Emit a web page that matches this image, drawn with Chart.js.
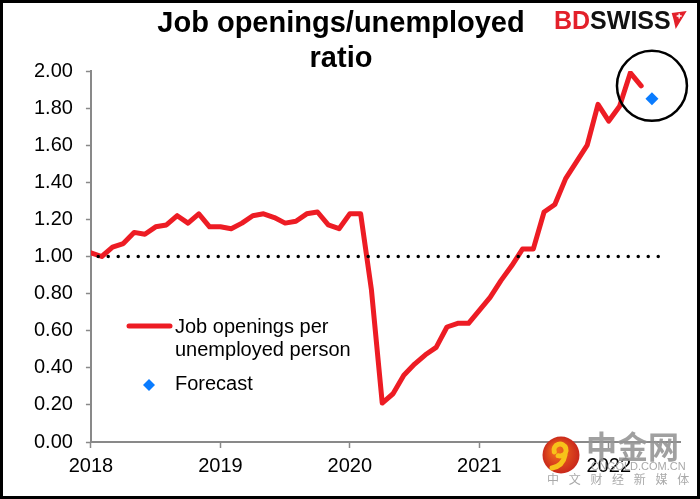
<!DOCTYPE html>
<html>
<head>
<meta charset="utf-8">
<script src="https://cdn.jsdelivr.net/npm/chart.js@4.4.0/dist/chart.umd.min.js"></script>
<style>
  html, body { margin: 0; padding: 0; background: #fff; }
  #wrap { width: 700px; height: 499px; }
</style>
</head>
<body>
<div id="wrap"><canvas id="ratioChart" width="700" height="499"></canvas></div>
<script>
// ── data ──
const titleLines = ['Job openings/unemployed', 'ratio'];
const yearLabels = ['2018', '2019', '2020', '2021', '2022'];
const seriesNames = ['Job openings per unemployed person', 'Forecast'];

// monthly, Jan 2018 .. Apr 2022
const ratio = [
  1.02, 1.00, 1.05, 1.07, 1.13, 1.12, 1.16, 1.17, 1.22, 1.18, 1.23, 1.16,
  1.16, 1.15, 1.18, 1.22, 1.23, 1.21, 1.18, 1.19, 1.23, 1.24, 1.17, 1.15,
  1.23, 1.23, 0.82, 0.21, 0.26, 0.36, 0.42, 0.47, 0.51, 0.62, 0.64, 0.64,
  0.71, 0.78, 0.87, 0.95, 1.04, 1.04, 1.24, 1.28, 1.42, 1.51, 1.60, 1.82,
  1.73, 1.81, 1.99, 1.92
];
const forecastMonth = 52;       // May 2022
const forecastValue = 1.85;
const refLevel = 1.00;
const refEndMonth = 53;
const highlightMonth = 52;
const highlightValue = 1.92;
const xMaxMonth = 54.6;

const FONT = "'Liberation Sans', Arial, sans-serif";
const RED = '#ED1C24';
const BLUE = '#0A7CFF';
const AXIS = '#898989';

// ── extra drawing: title, logo, legend, circle, frame ──
const decorations = {
  id: 'decorations',
  afterDatasetsDraw(chart) {
    const { ctx, scales: { x, y } } = chart;
    ctx.save();
    ctx.beginPath();
    ctx.arc(x.getPixelForValue(highlightMonth), y.getPixelForValue(highlightValue), 35, 0, Math.PI * 2);
    ctx.lineWidth = 2.5;
    ctx.strokeStyle = '#000';
    ctx.stroke();
    ctx.restore();
  },
  afterDraw(chart) {
    const ctx = chart.ctx;
    ctx.save();

    // title
    ctx.fillStyle = '#000';
    ctx.font = `bold 29px ${FONT}`;
    ctx.textAlign = 'center';
    ctx.textBaseline = 'alphabetic';
    titleLines.forEach((t, i) => ctx.fillText(t, 341, 32 + i * 35));

    // BDSWISS mark
    ctx.textAlign = 'left';
    ctx.font = `bold 25px ${FONT}`;
    ctx.fillStyle = '#E3202A';
    ctx.fillText('BD', 554, 29);
    const bdW = ctx.measureText('BD').width;
    ctx.fillStyle = '#111';
    ctx.fillText('SWISS', 554 + bdW, 29);
    const sx = 554 + bdW + ctx.measureText('SWISS').width + 1;
    ctx.fillStyle = '#E3202A';
    ctx.beginPath();
    ctx.moveTo(sx, 13); ctx.lineTo(sx + 15, 11); ctx.lineTo(sx + 4, 29); ctx.lineTo(sx + 2, 20);
    ctx.closePath(); ctx.fill();
    ctx.strokeStyle = '#fff'; ctx.lineWidth = 1.3;
    ctx.beginPath();
    ctx.moveTo(sx + 5, 16); ctx.lineTo(sx + 10, 16);
    ctx.moveTo(sx + 7.5, 13.5); ctx.lineTo(sx + 7.5, 18.5);
    ctx.stroke();

    // legend
    ctx.strokeStyle = RED; ctx.lineWidth = 5; ctx.lineCap = 'round';
    ctx.beginPath(); ctx.moveTo(129, 326); ctx.lineTo(170, 326); ctx.stroke();
    ctx.fillStyle = '#000';
    ctx.font = `20px ${FONT}`;
    ctx.textBaseline = 'middle';
    const words = seriesNames[0].split(' ');
    ctx.fillText(words.slice(0, 3).join(' '), 175, 327);
    ctx.fillText(words.slice(3).join(' '), 175, 350);
    ctx.fillText(seriesNames[1], 175, 384);
    ctx.fillStyle = BLUE;
    ctx.beginPath();
    ctx.moveTo(149, 379); ctx.lineTo(155, 385); ctx.lineTo(149, 391); ctx.lineTo(143, 385);
    ctx.closePath(); ctx.fill();

    // watermark
    const g = ctx.createRadialGradient(556, 450, 3, 561, 455, 19);
    g.addColorStop(0, '#F06A1E'); g.addColorStop(1, '#C8261B');
    ctx.fillStyle = g;
    ctx.beginPath(); ctx.arc(561, 455, 18.5, 0, Math.PI * 2); ctx.fill();
    ctx.strokeStyle = '#F7C21A'; ctx.lineWidth = 5; ctx.lineCap = 'round';
    ctx.beginPath(); ctx.arc(560, 450, 6, Math.PI * 0.9, Math.PI * 2.6); ctx.stroke();
    ctx.beginPath(); ctx.moveTo(565, 455); ctx.quadraticCurveTo(563, 466, 552, 468); ctx.stroke();
    ctx.fillStyle = 'rgba(150,150,150,0.9)';
    ctx.font = `bold 31px 'Noto Sans CJK SC', sans-serif`;
    ctx.textBaseline = 'middle';
    ctx.fillText('中金网', 586, 446);
    ctx.font = `11px ${FONT}`;
    ctx.fillStyle = 'rgba(160,160,160,0.9)';
    ctx.fillText('CNGOLD.COM.CN', 591, 467);
    ctx.font = `12px 'Noto Sans CJK SC', sans-serif`;
    ctx.textAlign = 'center';
    '中文财经新媒体'.split('').forEach((ch, i) => ctx.fillText(ch, 553 + i * 21.7, 479));

    // frame
    ctx.strokeStyle = '#000'; ctx.lineWidth = 3;
    ctx.strokeRect(1.5, 1.5, 697, 496);
    ctx.restore();
  }
};

new Chart(document.getElementById('ratioChart'), {
  type: 'line',
  data: {
    datasets: [
      {
        label: 'ref',
        data: [{ x: 0, y: refLevel }, { x: refEndMonth, y: refLevel }],
        borderColor: '#000',
        borderWidth: 3.5,
        borderDash: [0, 10],
        borderDashOffset: 2.7,
        borderCapStyle: 'round',
        pointRadius: 0
      },
      {
        label: seriesNames[0],
        data: ratio.map((v, i) => ({ x: i, y: v })),
        borderColor: RED,
        borderWidth: 5,
        borderJoinStyle: 'round',
        borderCapStyle: 'round',
        pointRadius: 0,
        tension: 0
      },
      {
        label: seriesNames[1],
        data: [{ x: forecastMonth, y: forecastValue }],
        showLine: false,
        pointStyle: 'rectRot',
        pointRadius: 6.5,
        pointBackgroundColor: BLUE,
        pointBorderWidth: 0
      }
    ]
  },
  options: {
    responsive: false,
    animation: false,
    devicePixelRatio: 1,
    layout: { padding: { left: 21, top: 71, right: 20, bottom: 15 } },
    plugins: { legend: { display: false }, title: { display: false }, tooltip: { enabled: false } },
    scales: {
      x: {
        type: 'linear',
        min: 0, max: xMaxMonth,
        afterBuildTicks: axis => { axis.ticks = yearLabels.map((_, i) => ({ value: i * 12 })); },
        ticks: {
          color: '#000', font: { family: FONT, size: 20 }, padding: 6,
          autoSkip: false, maxRotation: 0,
          callback: v => yearLabels[v / 12]
        },
        grid: { drawOnChartArea: false, tickLength: 6, tickColor: AXIS, tickWidth: 1.5 },
        border: { color: AXIS, width: 2 }
      },
      y: {
        min: 0, max: 2,
        ticks: {
          stepSize: 0.2, color: '#000', font: { family: FONT, size: 20 }, padding: 13,
          callback: v => v.toFixed(2)
        },
        grid: { drawOnChartArea: false, tickLength: 5, tickColor: AXIS, tickWidth: 1.5 },
        border: { color: AXIS, width: 2 }
      }
    }
  },
  plugins: [decorations]
});
</script>
</body>
</html>
